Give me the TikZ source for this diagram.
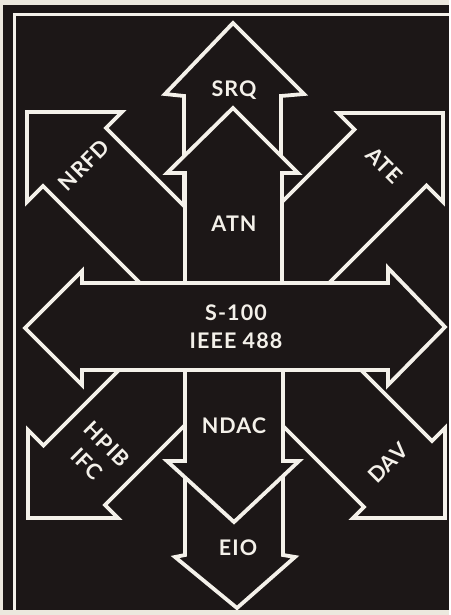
\documentclass[tikz,border=0pt]{standalone}
\usepackage{fontspec}
\setmainfont{Lato}
\newfontfamily\tagfont{Lato}[LetterSpace=5]
\usepackage{tikz}
\definecolor{ink}{HTML}{1C1717}
\definecolor{chalk}{HTML}{F4F1EA}
\definecolor{paper}{HTML}{ECE8DE}

\begin{document}
\begin{tikzpicture}[x=1pt, y=-1pt,
    blockarrow/.style={fill=ink, draw=chalk, line width=3.8pt, line join=miter},
    tag/.style={font=\tagfont\bfseries\fontsize{21.5}{28}\selectfont, text=chalk, align=center, inner sep=0pt}
  ]
  % Page and frame
  \fill[paper] (0,0) rectangle (449,615);
  \fill[ink] (3,5) rectangle (449,610);
  \draw[chalk, line width=3pt] (449,15) -- (14,15) -- (14,610);

  % Arrows behind
  \draw[blockarrow] (184,200) -- (184,96) -- (165,94) -- (233,23) -- (304,94) -- (281,96) -- (281,200) -- cycle;
  \draw[blockarrow] (185,440) -- (185,555) -- (175,557) -- (237,608) -- (295,557) -- (283,555) -- (283,440) -- cycle;

  % Diagonal arrows
  \draw[blockarrow] (250,272) -- (106,128) -- (122,112) -- (27,112) -- (27,202) -- (43,186) -- (170,313) -- cycle;
  \draw[blockarrow] (220,264) -- (354.5,129.5) -- (338,113) -- (443,113) -- (443,202) -- (426.5,185.5) -- (300,312) -- cycle;
  \draw[blockarrow] (160,329) -- (43.5,445.5) -- (28,430) -- (28,518) -- (118,518) -- (105,505) -- (220,390) -- cycle;
  \draw[blockarrow] (320,329) -- (432,441) -- (445,428) -- (445,518) -- (353,518) -- (364,507) -- (250,393) -- cycle;

  % Vertical arrows
  \draw[blockarrow] (185,327) -- (185,173) -- (167,173) -- (233,108) -- (298,173) -- (282,173) -- (282,327) -- cycle;
  \draw[blockarrow] (185,327) -- (185,461) -- (167,461) -- (234,522) -- (299,461) -- (283,461) -- (283,327) -- cycle;

  % Bus arrow
  \draw[blockarrow] (82,283) -- (82,271) -- (25,328) -- (82,385) -- (82,370) -- (388,370) -- (388,385) -- (445,327) -- (388,268) -- (388,283) -- cycle;

  % Labels
  \node[tag] (srq) at (234,90) {SRQ};
  \node[tag] (atn) at (234,224) {ATN};
  \node[tag] (bus) at (236,327) {S-100\\IEEE 488};
  \node[tag] (ndac) at (234,426) {NDAC};
  \node[tag] (eio) at (238,548) {EIO};
  \node[tag, rotate=45] (nrfd) at (84,165) {NRFD};
  \node[tag, rotate=-45] (ate) at (384,165) {ATE};
  \node[tag, rotate=-45] (hpib) at (97,454) {HPIB\\IFC};
  \node[tag, rotate=45] (dav) at (388,463) {DAV};
\end{tikzpicture}
\end{document}
